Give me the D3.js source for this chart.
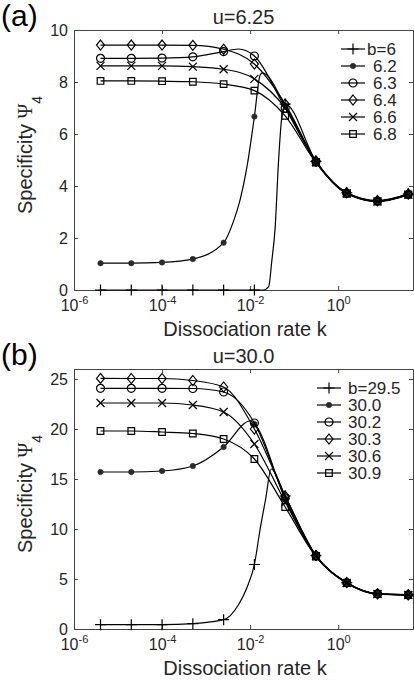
<!DOCTYPE html>
<html>
<head>
<meta charset="utf-8">
<script src="https://cdn.jsdelivr.net/npm/d3@7"></script>
<style>
  body { margin: 0; background: #fff; }
  svg { display: block; font-family: "Liberation Sans", Arial, Helvetica, sans-serif; }
</style>
</head>
<body>
<div id="chart"></div>
<script>
// dissociation rates where the markers sit (same for both panels)
var kRate = [4e-6, 2e-5, 1e-4, 5e-4, 2.5e-3, 1.25e-2, 6.25e-2, 0.3125, 1.5625, 7.8125, 39.0625];
var xTicks = [1e-6, 1e-4, 1e-2, 1];

// panel (a), u = 6.25
var labelsA = ["b=6", "6.2", "6.3", "6.4", "6.6", "6.8"];
var yTicksA = [0, 2, 4, 6, 8, 10];
var psiA = [
  [0, 0, 0, 0, 0, 0, 7.15, 4.95, 3.74, 3.43, 3.69],
  [1.03, 1.03, 1.06, 1.19, 1.82, 6.67, 7.1, 4.94, 3.73, 3.42, 3.68],
  [8.91, 8.91, 8.92, 8.97, 9.17, 9.0, 7.0, 4.93, 3.72, 3.42, 3.68],
  [9.42, 9.42, 9.42, 9.41, 9.26, 8.69, 7.15, 4.97, 3.75, 3.44, 3.7],
  [8.62, 8.62, 8.62, 8.59, 8.49, 8.12, 7.0, 4.92, 3.72, 3.41, 3.67],
  [8.04, 8.04, 8.03, 8.01, 7.92, 7.67, 6.7, 4.9, 3.7, 3.4, 3.66]
];
// extra points of the drawn curves between markers
var bendsA = [
  [[0.02, 0], [0.0264, 0.13], [0.031, 1.1], [0.037, 2.4], [0.044, 4.9], [0.052, 6.6]],
  [[0.0042, 2.65], [0.0059, 3.46], [0.0086, 4.8], [0.0169, 8.27], [0.019, 8.35]],
  [[0.0054, 9.27]],
  [], [], []
];

// panel (b), u = 30.0
var labelsB = ["b=29.5", "30.0", "30.2", "30.3", "30.6", "30.9"];
var yTicksB = [0, 5, 10, 15, 20, 25];
var psiB = [
  [0.43, 0.43, 0.43, 0.53, 0.93, 6.45, 13.3, 7.35, 4.64, 3.52, 3.42],
  [15.7, 15.7, 15.8, 16.3, 18.2, 20.5, 13.0, 7.3, 4.62, 3.5, 3.4],
  [24.07, 24.07, 24.07, 24.05, 23.7, 20.6, 13.1, 7.32, 4.63, 3.51, 3.41],
  [25.06, 25.05, 25.05, 24.85, 24.2, 20.0, 13.3, 7.36, 4.65, 3.53, 3.43],
  [22.6, 22.6, 22.6, 22.4, 21.7, 18.5, 12.7, 7.28, 4.6, 3.5, 3.4],
  [19.8, 19.8, 19.7, 19.55, 19.0, 17.0, 12.2, 7.25, 4.58, 3.48, 3.39]
];
var bendsB = [
  [[0.0054, 2.4], [0.0084, 4.1], [0.0169, 10.0], [0.0225, 13.0], [0.030, 16.0]],
  [[0.01, 20.8]],
  [], [], [], []
];

var W = 414, H = 680;
var plotLeft = 74, plotRight = 413, plotTop = 30, plotBottom = 290;
var axisColor = "#444", textColor = "#262626";

var svg = d3.select("#chart").append("svg")
    .attr("width", W)
    .attr("height", H);

// marker shapes, in series order
var markers = ["plus", "dot", "circle", "diamond", "cross", "square"];

function drawMarker(g, type, cx, cy) {
  var m = g.append("g").attr("transform", "translate(" + cx + "," + cy + ")");
  if (type == "dot") {
    m.append("circle").attr("r", 2.7).attr("fill", "#2a2a2a").attr("stroke", "#2a2a2a").attr("stroke-width", 0.6);
    return;
  }
  if (type == "circle") {
    m.append("circle").attr("r", 4).attr("fill", "none").attr("stroke", "#000").attr("stroke-width", 1.2);
    return;
  }
  var p;
  if (type == "plus") p = "M-5.5,0H5.5M0,-5.5V5.5";
  if (type == "cross") p = "M-4,-4L4,4M-4,4L4,-4";
  if (type == "diamond") p = "M0,-5L4,0L0,5L-4,0Z";
  if (type == "square") p = "M-3.3,-3.3H3.3V3.3H-3.3Z";
  m.append("path").attr("d", p).attr("fill", "none").attr("stroke", "#000").attr("stroke-width", 1.2);
}

function drawPanel(offsetY, tag, title, psi, bends, labels, yMax, yTicks, legendX, textX) {
  var g = svg.append("g").attr("transform", "translate(0," + offsetY + ")");

  var xScale = d3.scaleLog().domain([1e-6, 50]).range([plotLeft, plotRight]);
  var yScale = d3.scaleLinear().domain([0, yMax]).range([plotBottom, plotTop]);

  // axes, ticks pointing inward
  var xAxis = g.append("g")
      .attr("transform", "translate(0," + plotBottom + ")")
      .call(d3.axisBottom(xScale).tickValues(xTicks).tickSizeInner(-4).tickSizeOuter(0).tickFormat(""));
  g.append("g")
      .attr("transform", "translate(0," + plotTop + ")")
      .call(d3.axisTop(xScale).tickValues(xTicks).tickSizeInner(-4).tickSizeOuter(0).tickFormat(""));
  g.append("g")
      .attr("transform", "translate(" + plotLeft + ",0)")
      .call(d3.axisLeft(yScale).tickValues(yTicks).tickSizeInner(-4).tickSizeOuter(0).tickPadding(6));
  g.append("g")
      .attr("transform", "translate(" + plotRight + ",0)")
      .call(d3.axisRight(yScale).tickValues(yTicks).tickSizeInner(-4).tickSizeOuter(0).tickFormat(""));

  g.selectAll(".domain, .tick line").attr("stroke", axisColor);
  g.selectAll(".tick text")
      .attr("fill", textColor)
      .style("font-size", "16px")
      .style("font-family", "'Liberation Sans', Arial, sans-serif");

  // 10^n labels
  xAxis.selectAll(".tick").each(function(d) {
    var t = d3.select(this).append("text")
        .attr("y", 21)
        .attr("fill", textColor)
        .attr("text-anchor", "middle")
        .style("font-size", "16px");
    t.append("tspan").text("10");
    t.append("tspan").attr("dy", -7).style("font-size", "11px").text(Math.round(Math.log10(d)));
  });

  // curves
  var line = d3.line()
      .curve(d3.curveMonotoneX)
      .x(function(d) { return xScale(d[0]); })
      .y(function(d) { return yScale(d[1]); });

  psi.forEach(function(vals, i) {
    var pts = vals.map(function(v, j) { return [kRate[j], v]; }).concat(bends[i]);
    pts.sort(function(a, b) { return a[0] - b[0]; });
    g.append("path")
        .attr("d", line(pts))
        .attr("fill", "none")
        .attr("stroke", "#000")
        .attr("stroke-width", 1.2);
    vals.forEach(function(v, j) {
      drawMarker(g, markers[i], xScale(kRate[j]), yScale(v));
    });
  });

  // legend
  labels.forEach(function(lab, i) {
    var ly = 49 + i * 17;
    g.append("line")
        .attr("x1", legendX).attr("x2", legendX + 24)
        .attr("y1", ly).attr("y2", ly)
        .attr("stroke", "#000").attr("stroke-width", 1.2);
    drawMarker(g, markers[i], legendX + 12, ly);
    g.append("text")
        .attr("x", i == 0 ? textX[0] : textX[1])
        .attr("y", ly + 6)
        .attr("fill", textColor)
        .style("font-size", "17px")
        .text(lab);
  });

  // titles and labels
  g.append("text")
      .attr("x", 1).attr("y", 26)
      .attr("fill", "#000")
      .style("font-size", "30px")
      .text(tag);

  g.append("text")
      .attr("x", (plotLeft + plotRight) / 2).attr("y", 24)
      .attr("text-anchor", "middle")
      .attr("fill", textColor)
      .style("font-size", "20px")
      .text(title);

  g.append("text")
      .attr("x", 245).attr("y", 336)
      .attr("text-anchor", "middle")
      .attr("fill", textColor)
      .style("font-size", "20px")
      .text("Dissociation rate k");

  var yl = g.append("text")
      .attr("transform", "translate(32,155) rotate(-90)")
      .attr("text-anchor", "middle")
      .attr("fill", textColor)
      .style("font-size", "20px");
  yl.append("tspan").text("Specificity ");
  yl.append("tspan").style("font-family", "'Liberation Serif', 'DejaVu Serif', serif").text("Ψ");
  yl.append("tspan").attr("dy", 10).style("font-size", "14px").text("4");
}

drawPanel(0, "(a)", "u=6.25", psiA, bendsA, labelsA, 10, yTicksA, 341, [367, 373]);
drawPanel(339, "(b)", "u=30.0", psiB, bendsB, labelsB, 26, yTicksB, 317, [348, 348]);
</script>
</body>
</html>
